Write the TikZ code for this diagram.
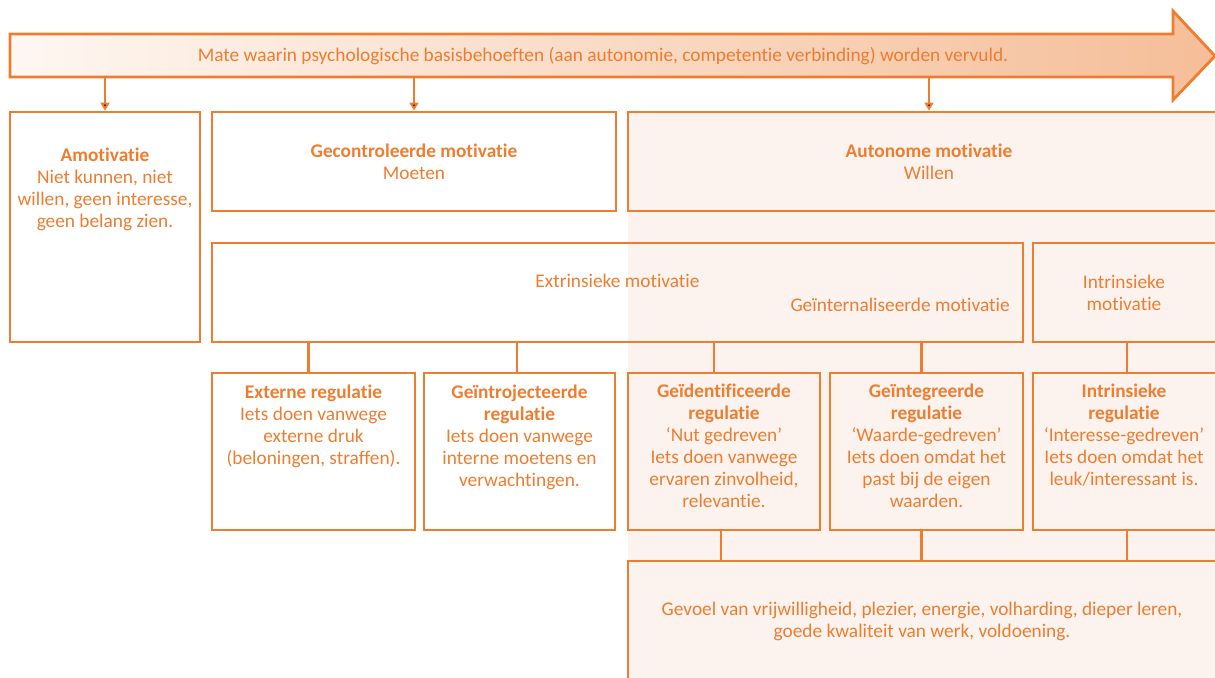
\documentclass[tikz,border=0pt]{standalone}
\usepackage{fontspec}
\setmainfont{Carlito}[Ligatures=NoCommon]
\usepackage{tikz}
\usetikzlibrary{positioning, arrows.meta}

\definecolor{morange}{HTML}{ED7D31}
\definecolor{peach}{HTML}{FCF3EE}
\definecolor{arrowleft}{HTML}{FEF7F2}
\definecolor{arrowright}{HTML}{F5BE98}

\begin{document}
\begin{tikzpicture}[x=0.02cm, y=-0.02cm]
        \tikzstyle{every node}=[text=morange, inner sep=0pt, align=center, font=\fontsize{11}{12.5}\selectfont]
        \tikzstyle{box}=[draw=morange, line width=1.6pt]
        \tikzstyle{link}=[draw=morange, line width=1.4pt]
        \tikzstyle{drop}=[-{Triangle[length=4.5pt, width=5pt]}]

        \useasboundingbox (0,0) rectangle (1215,677);
        \clip (0,0) rectangle (1215,677);
        \fill[peach] (628,112) rectangle (1240,700);

        \path[box, left color=arrowleft, right color=arrowright]
                (10,34) -- (1173,34) -- (1173,11) -- (1215,56) -- (1173,100) -- (1173,77) -- (10,77) -- cycle;
        \coordinate (shaft) at (10,77);
        \node (behoefte) at (603,56)
                {Mate waarin psychologische basisbehoeften (aan autonomie, competentie verbinding) worden vervuld.};

        \node (amo)    [box, minimum width=3.8cm, minimum height=4.6cm] at (105,227) {};
        \node (gecon)  [box, minimum width=8.08cm, minimum height=1.98cm] at (414,161.5)
                {\textbf{Gecontroleerde motivatie}\\Moeten};
        \node (auton)  [box, minimum width=12.04cm, minimum height=1.98cm] at (929,161.5)
                {\textbf{Autonome motivatie}\\Willen};
        \node (extr)   [box, minimum width=16.22cm, minimum height=1.98cm] at (617.5,292.5) {};
        \node (intr)   [box, minimum width=3.76cm, minimum height=1.98cm] at (1127,292.5) {};
        \node (ext)    [box, minimum width=4.06cm, minimum height=3.14cm] at (313.5,451.5) {};
        \node (intro)  [box, minimum width=3.82cm, minimum height=3.14cm] at (519.5,451.5) {};
        \node (ident)  [box, minimum width=3.84cm, minimum height=3.14cm] at (724,451.5) {};
        \node (integ)  [box, minimum width=3.86cm, minimum height=3.14cm] at (926.5,451.5) {};
        \node (intreg) [box, minimum width=3.76cm, minimum height=3.14cm] at (1127,451.5) {};
        \node (gevoel) [box, minimum width=12.04cm, minimum height=2.78cm] at (929,630.5) {};

        \node (amotxt)    [below=0.74cm of amo.north]
                {\textbf{Amotivatie}\\Niet kunnen, niet\\willen, geen interesse,\\geen belang zien.};
        \node (extrtxt)   at (617.5,281) {Extrinsieke motivatie};
        \node (interntxt) [anchor=east] at (1010,305) {Geïnternaliseerde motivatie};
        \node (intrtxt)   at (1124,293) {Intrinsieke\\motivatie};
        \node (exttxt)    [below=0.26cm of ext.north]
                {\textbf{Externe regulatie}\\Iets doen vanwege\\externe druk\\(beloningen, straffen).};
        \node (introtxt)  [below=0.26cm of intro.north]
                {\textbf{Geïntrojecteerde}\\\textbf{regulatie}\\Iets doen vanwege\\interne moetens en\\verwachtingen.};
        \node (identtxt)  [below=0.24cm of ident.north]
                {\textbf{Geïdentificeerde}\\\textbf{regulatie}\\‘Nut gedreven’\\Iets doen vanwege\\ervaren zinvolheid,\\relevantie.};
        \node (integtxt)  [below=0.24cm of integ.north]
                {\textbf{Geïntegreerde}\\\textbf{regulatie}\\‘Waarde-gedreven’\\Iets doen omdat het\\past bij de eigen\\waarden.};
        \node (intregtxt) [below=0.24cm of intreg.north, xshift=-0.06cm]
                {\textbf{Intrinsieke}\\\textbf{regulatie}\\‘Interesse-gedreven’\\Iets doen omdat het\\leuk/interessant is.};
        \node (gevoeltxt) at (922,621)
                {Gevoel van vrijwilligheid, plezier, energie, volharding, dieper leren,\\goede kwaliteit van werk, voldoening.};

        \path[link]     (shaft -| amo.north) edge[drop] (amo.north)
                        (shaft -| gecon.north) edge[drop] (gecon.north)
                        (shaft -| auton.north) edge[drop] (auton.north);

        \path[link]     ([xshift=-0.1cm]extr.south -| ext.north) edge ([xshift=-0.1cm]ext.north)
                        ([xshift=-0.05cm]extr.south -| intro.north) edge ([xshift=-0.05cm]intro.north)
                        ([xshift=-0.2cm]extr.south -| ident.north) edge ([xshift=-0.2cm]ident.north)
                        ([xshift=-0.1cm]extr.south -| integ.north) edge ([xshift=-0.1cm]integ.north)
                        (intr.south) edge (intreg.north)
                        ([xshift=-0.06cm]ident.south) edge ([xshift=-0.06cm]ident.south |- gevoel.north)
                        ([xshift=-0.1cm]integ.south) edge ([xshift=-0.1cm]integ.south |- gevoel.north)
                        (intreg.south) edge (intreg.south |- gevoel.north);
\end{tikzpicture}
\end{document}
